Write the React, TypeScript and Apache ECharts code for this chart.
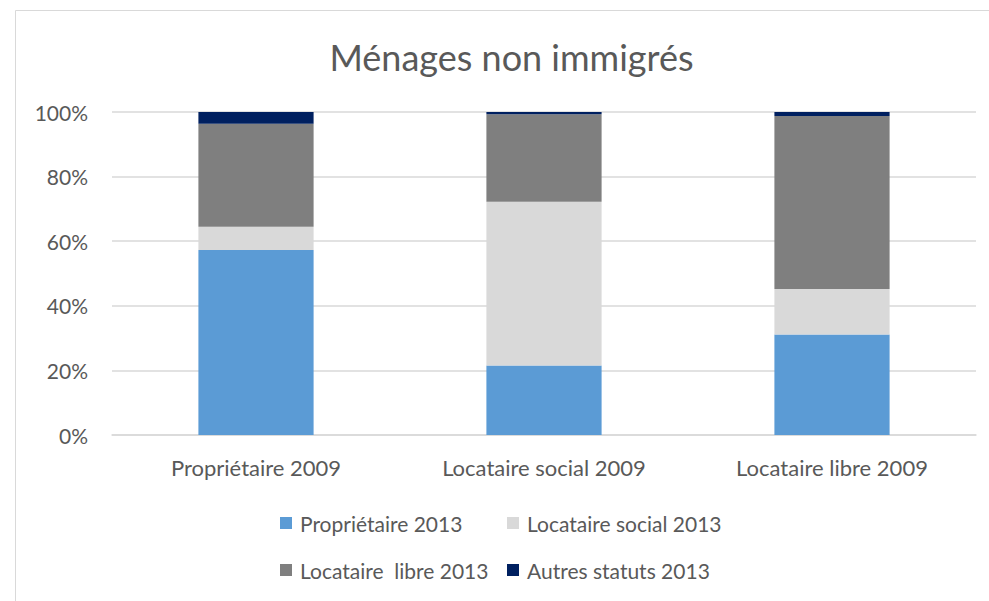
import React, { useEffect, useRef } from "react";
import * as echarts from "echarts";

const categories = ["Propriétaire 2009", "Locataire social 2009", "Locataire libre 2009"];
const seriesNames = ["Propriétaire 2013", "Locataire social 2013", "Locataire  libre 2013", "Autres statuts 2013"];
const proprietaire2013 = [57.3, 21.5, 31.1];
const locataireSocial2013 = [7.2, 50.7, 14.1];
const locataireLibre2013 = [31.9, 27.1, 53.6];
const autres2013 = [3.6, 0.7, 1.2];
const yTicks = [0, 20, 40, 60, 80, 100];
const colors = ["#5B9BD5", "#D9D9D9", "#7F7F7F", "#002060"];
const titleText = "Ménages non immigrés";

const FONT = "Lato, 'Liberation Sans', sans-serif";
const TXT = "#595959";

export default function App() {
  const ref = useRef<HTMLDivElement>(null);
  useEffect(() => {
    if (!ref.current) return;
    const chart = echarts.init(ref.current, undefined, { renderer: "svg" });
    const values = [proprietaire2013, locataireSocial2013, locataireLibre2013, autres2013];
    const legendPos = [
      { left: 280, top: 511 },
      { left: 507, top: 511 },
      { left: 280, top: 558 },
      { left: 507, top: 558 },
    ];
    chart.setOption({
      animation: false,
      backgroundColor: "#ffffff",
      textStyle: { fontFamily: FONT },
      graphic: [
        {
          type: "rect",
          shape: { x: 15.5, y: 10.5, width: 1000, height: 700 },
          style: { fill: "none", stroke: "#D9D9D9", lineWidth: 1 },
          silent: true,
        },
        {
          type: "text",
          x: 511.5,
          y: 57,
          style: {
            text: titleText,
            fontFamily: FONT,
            fontSize: 36,
            fill: TXT,
            textAlign: "center",
            textVerticalAlign: "middle",
          },
        },
      ],
      grid: { left: 112, right: 13, top: 112, bottom: 166, containLabel: false },
      legend: seriesNames.map((n, i) => ({
        data: [n],
        left: legendPos[i].left,
        top: legendPos[i].top,
        padding: 0,
        itemWidth: 12,
        itemHeight: 12,
        icon: "rect",
        selectedMode: false,
        textStyle: { fontFamily: FONT, fontSize: 21, color: TXT, lineHeight: 24, padding: [0, 0, 0, 3] },
      })),
      xAxis: {
        type: "category",
        data: categories,
        axisLine: { show: true, lineStyle: { color: "#D9D9D9", width: 1.5 } },
        axisTick: { show: false },
        axisLabel: { color: TXT, fontFamily: FONT, fontSize: 22, margin: 21 },
      },
      yAxis: {
        type: "value",
        min: yTicks[0],
        max: yTicks[yTicks.length - 1],
        interval: 20,
        axisLine: { show: false },
        axisTick: { show: false },
        splitLine: { lineStyle: { color: "#D9D9D9", width: 1.5 } },
        axisLabel: { color: TXT, fontFamily: FONT, fontSize: 21, margin: 24, formatter: "{value}%" },
      },
      series: seriesNames.map((n, i) => ({
        name: n,
        type: "bar",
        stack: "total",
        barCategoryGap: "60%",
        data: values[i],
        itemStyle: { color: colors[i] },
      })),
    });
    return () => chart.dispose();
  }, []);
  return <div ref={ref} style={{ position: "fixed", left: 0, top: 0, width: 989, height: 601 }} />;
}
